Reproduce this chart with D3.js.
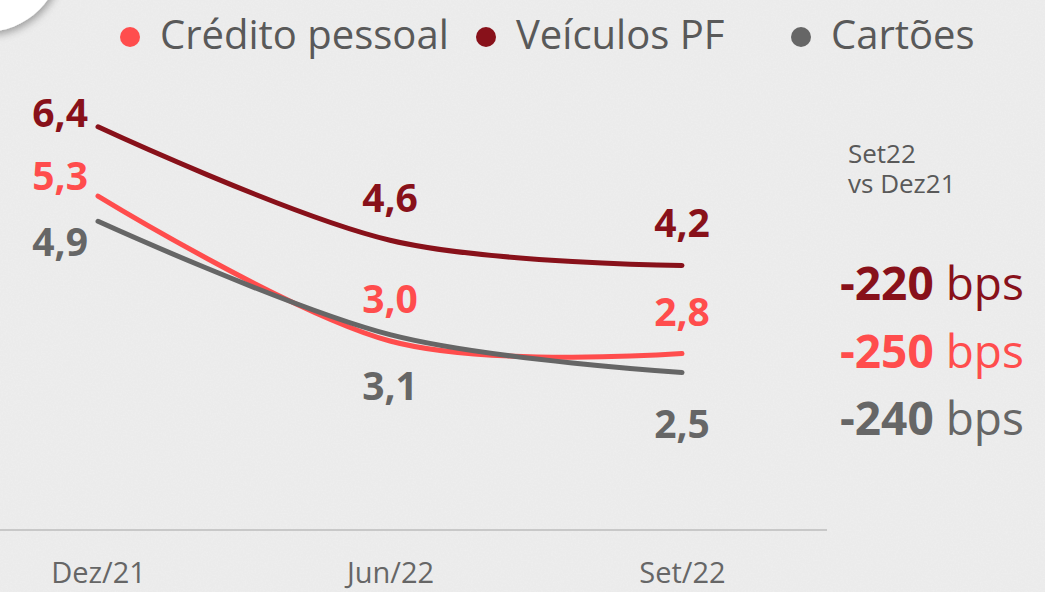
<!DOCTYPE html>
<html>
<head>
<meta charset="utf-8">
<script src="https://cdn.jsdelivr.net/npm/d3@7"></script>
<style>
  html, body { margin: 0; padding: 0; background: #ebebeb; }
  svg { display: block; font-family: "Open Sans", "Noto Sans", sans-serif; }
</style>
</head>
<body>
<svg id="chart" width="1045" height="592"></svg>
<script>
// --- data ---
const periods = ["Dez/21", "Jun/22", "Set/22"];
const seriesNames = ["Veículos PF", "Crédito pessoal", "Cartões"];
const veiculos = [6.4, 4.6, 4.2];
const credito = [5.3, 3.0, 2.8];
const cartoes = [4.9, 3.1, 2.5];
const deltaBps = [-220, -250, -240];
const legendOrder = ["Crédito pessoal", "Veículos PF", "Cartões"];

const colors = {
  "Veículos PF": "#88111a",
  "Crédito pessoal": "#ff4d4d",
  "Cartões": "#666666"
};

const series = [
  { name: "Veículos PF", values: veiculos },
  { name: "Crédito pessoal", values: credito },
  { name: "Cartões", values: cartoes }
];

const svg = d3.select("#chart");
const W = 1045, H = 592;

// --- background with a light paper texture ---
const defs = svg.append("defs");
const noise = defs.append("filter").attr("id", "noise")
  .attr("x", 0).attr("y", 0).attr("width", "100%").attr("height", "100%");
noise.append("feTurbulence").attr("type", "fractalNoise")
  .attr("baseFrequency", 0.6).attr("numOctaves", 2).attr("seed", 3);
noise.append("feColorMatrix").attr("type", "matrix")
  .attr("values", "0 0 0 0 1  0 0 0 0 1  0 0 0 0 1  0 0 0 0.9 -0.35");

const shadow = defs.append("filter").attr("id", "shadow")
  .attr("x", "-50%").attr("y", "-50%").attr("width", "200%").attr("height", "200%");
shadow.append("feDropShadow").attr("dx", 2).attr("dy", 3)
  .attr("stdDeviation", 4).attr("flood-color", "#000").attr("flood-opacity", 0.35);

svg.append("rect").attr("width", W).attr("height", H).attr("fill", "#ebebeb");
svg.append("rect").attr("width", W).attr("height", H)
  .attr("filter", "url(#noise)").attr("opacity", 0.35);

// white rounded tab peeking in the top-left corner
svg.append("circle").attr("cx", -15).attr("cy", -45).attr("r", 77)
  .attr("fill", "#ffffff").attr("filter", "url(#shadow)");

// --- scales ---
const x = d3.scalePoint().domain(periods).range([98, 682]);
const y = d3.scaleLinear().domain([0, 7]).range([530, 89]);

// --- x axis ---
const axis = svg.append("g")
  .attr("transform", `translate(0,${y(0)})`)
  .call(d3.axisBottom(x).tickSize(0).tickPadding(0));
axis.select(".domain").remove();
axis.selectAll("text")
  .attr("dy", null)
  .attr("y", 53)
  .attr("font-family", "'Open Sans', sans-serif")
  .attr("font-size", 29)
  .attr("fill", "#666666");

svg.append("line")
  .attr("x1", 0).attr("x2", 827)
  .attr("y1", y(0)).attr("y2", y(0))
  .attr("stroke", "#c8c8c8").attr("stroke-width", 2);

// --- lines ---
const line = d3.line()
  .x((d, i) => x(periods[i]))
  .y(d => y(d))
  .curve(d3.curveCardinal.tension(0));

svg.append("g").selectAll("path")
  .data(series)
  .join("path")
  .attr("d", d => line(d.values))
  .attr("fill", "none")
  .attr("stroke", d => colors[d.name])
  .attr("stroke-width", 5)
  .attr("stroke-linecap", "round");

// --- value labels ---
const firstOffset = { "Veículos PF": 0, "Crédito pessoal": -6, "Cartões": 35 };
const laterOffset = { "Veículos PF": -28, "Crédito pessoal": -28, "Cartões": 65 };

const labels = svg.append("g")
  .attr("font-weight", 700)
  .attr("font-size", 39);

series.forEach(s => {
  s.values.forEach((v, i) => {
    const px = x(periods[i]);
    const py = y(v);
    labels.append("text")
      .attr("x", i === 0 ? px - 10 : px)
      .attr("y", py + (i === 0 ? firstOffset[s.name] : laterOffset[s.name]))
      .attr("text-anchor", i === 0 ? "end" : "middle")
      .attr("fill", colors[s.name])
      .text(d3.format(".1f")(v).replace(".", ","));
  });
});

// --- legend ---
const legendX = [130, 486, 801];
const legend = svg.append("g").selectAll("g")
  .data(legendOrder)
  .join("g")
  .attr("transform", (d, i) => `translate(${legendX[i]},37)`);
legend.append("circle").attr("r", 10).attr("fill", d => colors[d]);
legend.append("text")
  .attr("x", 30).attr("y", 12)
  .attr("font-size", 40)
  .attr("fill", "#595959")
  .text(d => d);

// --- change since Dez21 ---
const note = svg.append("text")
  .attr("x", 848).attr("y", 163)
  .attr("font-size", 26)
  .attr("fill", "#595959");
note.append("tspan").attr("x", 848).text("Set22");
note.append("tspan").attr("x", 848).attr("dy", 30).text("vs Dez21");

const deltaY = [300, 368, 435];
series.forEach((s, i) => {
  const t = svg.append("text")
    .attr("x", 840).attr("y", deltaY[i])
    .attr("font-size", 46)
    .attr("fill", colors[s.name]);
  t.append("tspan").attr("font-weight", 700).text(deltaBps[i]);
  t.append("tspan").text(" bps");
});
</script>
</body>
</html>
